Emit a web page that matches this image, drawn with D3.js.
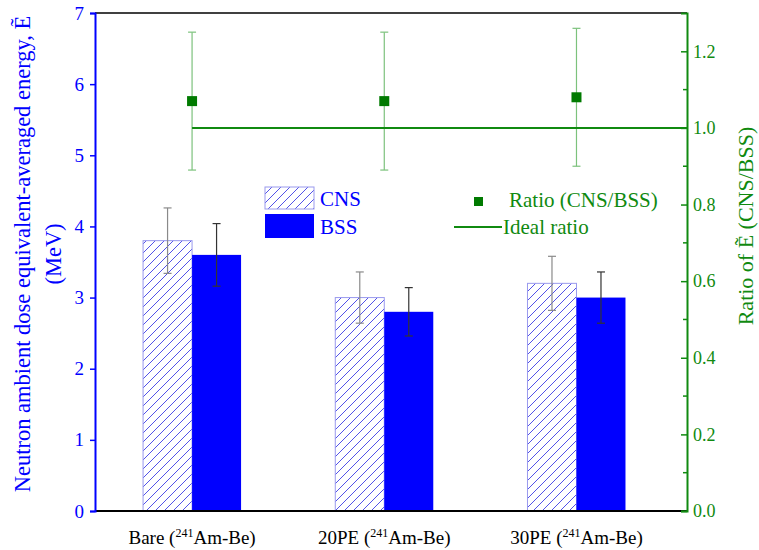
<!DOCTYPE html>
<html>
<head>
<meta charset="utf-8">
<script src="https://cdn.jsdelivr.net/npm/d3@7"></script>
<style>
  body { margin: 0; background: #fff; }
  text { font-family: "Liberation Serif", "Times New Roman", serif; }
</style>
</head>
<body>
<script>
var categories = ["Bare", "20PE", "30PE"];
var cnsValues = [3.8, 3.0, 3.2];
var cnsErrors = [0.46, 0.36, 0.38];
var bssValues = [3.6, 2.8, 3.0];
var bssErrors = [0.44, 0.34, 0.36];
var ratioValues = [1.07, 1.07, 1.08];
var ratioErrors = [0.18, 0.18, 0.18];
var idealRatio = 1.0;
var leftTicks = [0, 1, 2, 3, 4, 5, 6, 7];
var rightTicks = [0, 0.2, 0.4, 0.6, 0.8, 1.0, 1.2];
var rightMinor = [0.1, 0.3, 0.5, 0.7, 0.9, 1.1];

var W = 759, H = 550;
var plot = {left: 95, right: 687, top: 13, bottom: 511};
var blue = "#0000ff", green = "#108a10";

var svg = d3.select("body").append("svg")
    .attr("width", W)
    .attr("height", H);

var x = d3.scaleLinear().domain([0.495, 3.575]).range([plot.left, plot.right]);
var y = d3.scaleLinear().domain([0, 7]).range([plot.bottom, plot.top]);
var y2 = d3.scaleLinear().domain([0, 1.3]).range([plot.bottom, plot.top]);
var barW = 49;

// hatch pattern for CNS
var defs = svg.append("defs");
var pat = defs.append("pattern")
    .attr("id", "hatch")
    .attr("patternUnits", "userSpaceOnUse")
    .attr("width", 9)
    .attr("height", 9);
pat.append("rect").attr("width", 9).attr("height", 9).attr("fill", "#fff");
pat.append("path")
    .attr("d", "M0,9 L9,0 M-3,3 L3,-3 M6,12 L12,6")
    .attr("stroke", "#5252e8")
    .attr("stroke-width", 1);

// bars
var g = svg.append("g");
categories.forEach(function(c, i) {
    var cx = x(i + 1);
    g.append("rect")
        .attr("x", cx - barW)
        .attr("y", y(cnsValues[i]))
        .attr("width", barW)
        .attr("height", y(0) - y(cnsValues[i]))
        .attr("fill", "url(#hatch)")
        .attr("stroke", "#9a9aee")
        .attr("stroke-width", 1);
    g.append("rect")
        .attr("x", cx)
        .attr("y", y(bssValues[i]))
        .attr("width", barW)
        .attr("height", y(0) - y(bssValues[i]))
        .attr("fill", blue);
});

// error bars
function errBar(cx, v, e, scale, color, cap) {
    var lo = scale(v - e), hi = scale(v + e);
    g.append("line").attr("x1", cx).attr("x2", cx).attr("y1", lo).attr("y2", hi)
        .attr("stroke", color).attr("stroke-width", 1.2);
    [lo, hi].forEach(function(yy) {
        g.append("line").attr("x1", cx - cap).attr("x2", cx + cap).attr("y1", yy).attr("y2", yy)
            .attr("stroke", color).attr("stroke-width", 1.2);
    });
}
categories.forEach(function(c, i) {
    var cx = x(i + 1);
    errBar(cx - barW / 2, cnsValues[i], cnsErrors[i], y, "#8a8a8a", 4);
    errBar(cx + barW / 2, bssValues[i], bssErrors[i], y, "#333", 4);
});

// ratio error bars, ideal line, points
categories.forEach(function(c, i) {
    errBar(x(i + 1), ratioValues[i], ratioErrors[i], y2, "#7cc27c", 4);
});
svg.append("line")
    .attr("x1", x(1)).attr("x2", plot.right)
    .attr("y1", y2(idealRatio)).attr("y2", y2(idealRatio))
    .attr("stroke", green).attr("stroke-width", 2);
svg.selectAll(".pt")
    .data(ratioValues)
    .enter()
    .append("rect")
    .attr("class", "pt")
    .attr("x", function(d, i) { return x(i + 1) - 5; })
    .attr("y", function(d) { return y2(d) - 5; })
    .attr("width", 10)
    .attr("height", 10)
    .attr("fill", "#007a00");

// frame
svg.append("line").attr("x1", plot.left).attr("x2", plot.right).attr("y1", plot.top).attr("y2", plot.top)
    .attr("stroke", "#000").attr("stroke-width", 1.5);
svg.append("line").attr("x1", plot.left).attr("x2", plot.right).attr("y1", plot.bottom).attr("y2", plot.bottom)
    .attr("stroke", "#000").attr("stroke-width", 2);

// left axis
var ya = svg.append("g")
    .attr("transform", "translate(" + plot.left + ",0)")
    .call(d3.axisLeft(y).tickValues(leftTicks).tickSize(5).tickPadding(6).tickFormat(d3.format("d")));
ya.select(".domain").attr("stroke", blue).attr("stroke-width", 2);
ya.selectAll(".tick line").attr("stroke", blue).attr("stroke-width", 1.5);
ya.selectAll(".tick text").attr("fill", blue)
    .style("font-family", "Liberation Serif").style("font-size", "19px");

// right axis
var y2a = svg.append("g")
    .attr("transform", "translate(" + plot.right + ",0)")
    .call(d3.axisRight(y2).tickValues(rightTicks).tickSize(-6).tickPadding(6).tickFormat(d3.format(".1f")));
y2a.select(".domain").attr("stroke", green).attr("stroke-width", 2);
y2a.selectAll(".tick line").attr("stroke", green).attr("stroke-width", 1.5);
y2a.selectAll(".tick text").attr("fill", green)
    .style("font-family", "Liberation Serif").style("font-size", "18px");
y2a.selectAll(".minor")
    .data(rightMinor)
    .enter()
    .append("line")
    .attr("x1", -4).attr("x2", 0)
    .attr("y1", function(d) { return y2(d); })
    .attr("y2", function(d) { return y2(d); })
    .attr("stroke", green).attr("stroke-width", 1.5);

// x labels
categories.forEach(function(c, i) {
    var t = svg.append("text")
        .attr("x", x(i + 1))
        .attr("y", 544)
        .attr("text-anchor", "middle")
        .style("font-size", "19px")
        .attr("fill", "#000");
    t.append("tspan").text(c + " (");
    t.append("tspan").attr("dy", -7).style("font-size", "12px").text("241");
    t.append("tspan").attr("dy", 7).text("Am-Be)");
});

// axis titles
svg.append("text")
    .attr("transform", "translate(30,254) rotate(-90)")
    .attr("text-anchor", "middle")
    .attr("fill", blue)
    .style("font-size", "22.5px")
    .text("Neutron ambient dose equivalent-averaged energy, Ẽ");
svg.append("text")
    .attr("transform", "translate(61,254) rotate(-90)")
    .attr("text-anchor", "middle")
    .attr("fill", blue)
    .style("font-size", "22.5px")
    .text("(MeV)");
svg.append("text")
    .attr("transform", "translate(753,226) rotate(-90)")
    .attr("text-anchor", "middle")
    .attr("fill", green)
    .style("font-size", "22px")
    .text("Ratio of Ẽ (CNS/BSS)");

// legend
var lg = svg.append("g");
lg.append("rect").attr("x", 265).attr("y", 187).attr("width", 49).attr("height", 22)
    .attr("fill", "url(#hatch)").attr("stroke", "#9a9aee");
lg.append("rect").attr("x", 265).attr("y", 214).attr("width", 49).attr("height", 24)
    .attr("fill", blue);
lg.append("text").attr("x", 320).attr("y", 206).attr("fill", blue).style("font-size", "21px").text("CNS");
lg.append("text").attr("x", 320).attr("y", 234).attr("fill", blue).style("font-size", "21px").text("BSS");
lg.append("rect").attr("x", 474).attr("y", 197).attr("width", 9).attr("height", 9).attr("fill", "#007a00");
lg.append("text").attr("x", 509).attr("y", 207).attr("fill", green).style("font-size", "21px").text("Ratio (CNS/BSS)");
lg.append("line").attr("x1", 454).attr("x2", 502).attr("y1", 227).attr("y2", 227)
    .attr("stroke", green).attr("stroke-width", 2);
lg.append("text").attr("x", 503).attr("y", 234).attr("fill", green).style("font-size", "21px").text("Ideal ratio");
</script>
</body>
</html>
